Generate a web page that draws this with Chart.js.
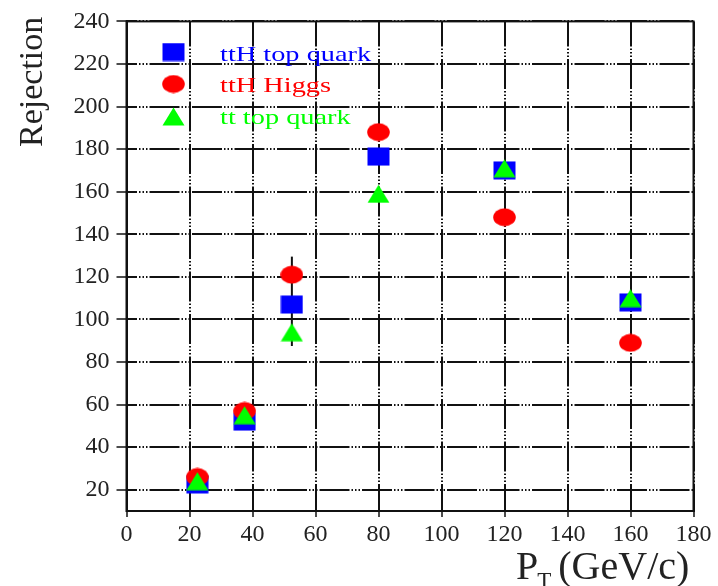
<!DOCTYPE html>
<html>
<head>
<meta charset="utf-8">
<script src="https://cdn.jsdelivr.net/npm/chart.js@4.4.0/dist/chart.umd.min.js"></script>
<style>
  html, body { margin: 0; padding: 0; background: #fff; }
</style>
</head>
<body>
<canvas id="myChart" width="718" height="586"></canvas>
<script>
      var ptBins = [22.5, 37.5, 52.5, 80, 120, 160];
      var tthTop = [22.5, 52, 107, 176.5, 170, 108];
      var tthHiggs = [26, 57, 121, 188, 148, 89];
      var ttTop = [24, 55, 94, 159, 171, 110];
      // error bar on the ttH top quark point at 52.5 GeV/c
      var tthTopErrLo = [null, null, 87.5, null, null, null];
      var tthTopErrHi = [null, null, 129.5, null, null, null];
      var seriesNames = ["ttH top quark", "ttH Higgs", "tt top quark"];
      var seriesColors = ["#0000ff", "#ff0000", "#00ff00"];

      var serif = '"Liberation Serif", "Times New Roman", serif';

      // markers are a bit wider than tall, so build them as small canvases
      function makeMarker(shape, color) {
        var c = document.createElement('canvas');
        c.width = 23; c.height = 19;
        var g = c.getContext('2d');
        g.fillStyle = color;
        if (shape == 'rect') {
          g.fillRect(0.5, 0.5, 22, 18);
        } else if (shape == 'circle') {
          g.beginPath();
          g.ellipse(11.5, 9.5, 11.3, 9, 0, 0, Math.PI * 2);
          g.fill();
        } else {
          g.beginPath();
          g.moveTo(11.5, 0.5);
          g.lineTo(22.5, 18.5);
          g.lineTo(0.5, 18.5);
          g.closePath();
          g.fill();
        }
        return c;
      }
      var markers = [makeMarker('rect', seriesColors[0]), makeMarker('circle', seriesColors[1]), makeMarker('triangle', seriesColors[2])];

      function toPoints(ys) {
        return ptBins.map(function (x, i) { return { x: x, y: ys[i] }; });
      }

      var decorations = {
        id: 'decorations',
        beforeDatasetsDraw: function (chart) {
          var a = chart.chartArea, ctx = chart.ctx;
          var xs = chart.scales.x, ys = chart.scales.y;
          ctx.save();
          ctx.strokeStyle = '#111';
          ctx.lineWidth = 2;
          ctx.strokeRect(a.left, a.top, a.right - a.left, a.bottom - a.top);
          ctx.beginPath();
          for (var i = 0; i < ptBins.length; i++) {
            if (tthTopErrLo[i] == null) continue;
            var px = xs.getPixelForValue(ptBins[i]);
            ctx.moveTo(px, ys.getPixelForValue(tthTopErrLo[i]));
            ctx.lineTo(px, ys.getPixelForValue(tthTopErrHi[i]));
          }
          ctx.stroke();
          ctx.restore();
        },
        afterDraw: function (chart) {
          var ctx = chart.ctx;
          ctx.save();
          // legend inside the plot
          var legendY = [52, 84, 116.5];
          var baseY = [60.7, 92, 123.5];
          for (var i = 0; i < 3; i++) {
            var m = markers[i];
            ctx.drawImage(m, 173.5 - m.width / 2, legendY[i] - m.height / 2);
            ctx.save();
            ctx.translate(220, baseY[i]);
            ctx.scale(1.35, 1);
            ctx.font = '21px ' + serif;
            ctx.fillStyle = seriesColors[i];
            ctx.textBaseline = 'alphabetic';
            ctx.fillText(seriesNames[i], 0, 0);
            ctx.restore();
          }
          // axis titles
          ctx.fillStyle = '#222';
          ctx.textBaseline = 'alphabetic';
          ctx.save();
          ctx.translate(42, 147);
          ctx.rotate(-Math.PI / 2);
          ctx.font = '34px ' + serif;
          ctx.textAlign = 'left';
          ctx.fillText('Rejection', 0, 0);
          ctx.restore();

          ctx.font = '40px ' + serif;
          ctx.fillText('P', 516, 579);
          var pw = ctx.measureText('P').width;
          ctx.font = '23px ' + serif;
          ctx.fillText('T', 516 + pw - 1, 588);
          var tw = ctx.measureText('T').width;
          ctx.font = '40px ' + serif;
          ctx.fillText('(GeV/c)', 516 + pw + tw + 6, 579);
          ctx.restore();
        }
      };

      var ctx = document.getElementById("myChart");
      var myChart = new Chart(ctx, {
        type: 'scatter',
        data: {
          datasets: [
            { label: seriesNames[0], data: toPoints(tthTop), pointStyle: markers[0], order: 2 },
            { label: seriesNames[1], data: toPoints(tthHiggs), pointStyle: markers[1], order: 1 },
            { label: seriesNames[2], data: toPoints(ttTop), pointStyle: markers[2], order: 0 }
          ]
        },
        options: {
          responsive: false,
          animation: false,
          events: [],
          layout: { padding: { left: 0, right: 24.5, top: 20.7, bottom: 0 } },
          plugins: { legend: { display: false }, tooltip: { enabled: false } },
          scales: {
            x: {
              type: 'linear',
              min: 0, max: 180,
              afterFit: function (s) { s.height = 75; },
              ticks: { stepSize: 20, color: '#222', padding: 3, maxRotation: 0, font: { family: serif, size: 24 } },
              grid: { color: '#111', lineWidth: 2, tickColor: '#111', tickWidth: 1.5, tickLength: 6 },
              border: { display: true, color: '#111', width: 2, dash: [30, 2, 1.5, 2, 1.5, 2, 1.5, 2], dashOffset: 5 }
            },
            y: {
              min: 10, max: 240,
              afterFit: function (s) { s.width = 126.5; },
              ticks: { stepSize: 20, includeBounds: false, color: '#222', padding: 7, font: { family: serif, size: 24 } },
              grid: { color: '#111', lineWidth: 2, tickColor: '#111', tickWidth: 1.5, tickLength: 10 },
              border: { display: true, color: '#111', width: 2, dash: [30, 2, 1.5, 2, 1.5, 2, 1.5, 2], dashOffset: 21 }
            }
          }
        },
        plugins: [decorations]
      });
</script>
</body>
</html>
